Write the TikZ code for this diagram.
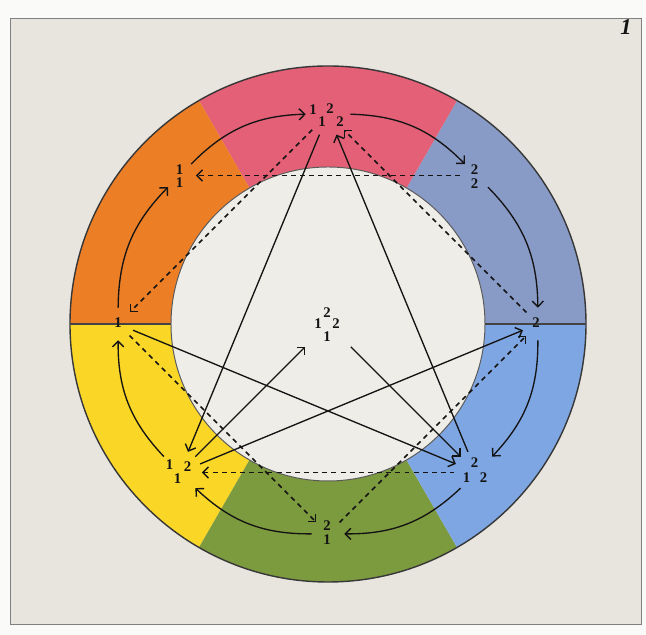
\documentclass[tikz,border=0pt]{standalone}
\usepackage{fontspec}
\setmainfont{Liberation Serif}
\usepackage{tikz}
\usetikzlibrary{
  arrows.meta
}
\definecolor{margin}{RGB}{250,250,248}
\definecolor{paper}{RGB}{231,229,222}
\definecolor{paperlt}{RGB}{239,237,231}
\definecolor{ink}{RGB}{20,20,20}
\definecolor{segred}{RGB}{228,96,118}
\definecolor{segorange}{RGB}{236,126,38}
\definecolor{segyellow}{RGB}{250,214,38}
\definecolor{seggreen}{RGB}{124,154,62}
\definecolor{segblue}{RGB}{126,166,226}
\definecolor{seggrey}{RGB}{136,154,198}
\newcommand{\sector}[3]{%
  \fill[#3] (#1:258) arc[start angle=#1,end angle=#2,radius=258]%
    -- (#2:157) arc[start angle=#2,end angle=#1,radius=157] -- cycle;%
}
\newcommand{\digit}[4]{%
  \node[num] (#1) at ([shift={(#2)}]#3) {#4};%
}
\tikzset{
  num/.style={font=\fontsize{10.5}{10.5}\selectfont\bfseries,text=ink,inner sep=0pt},
  grp/.style={circle,inner sep=0pt,minimum size=0.8cm},
  wide/.style={grp,minimum size=1.1cm},
  tip/.tip={Straight Barb[length=4pt,width=8pt,line width=1pt]},
  arcarrow/.style={ink,line width=0.95pt,-tip,bend left=22},
  ray/.style={ink,line width=0.95pt,-tip},
  dashray/.style={ray,line width=1.05pt,dash pattern=on 3.5pt off 3pt}
}

\begin{document}
\begin{tikzpicture}[x=0.025cm,y=0.025cm]
  \useasboundingbox (-328,324) rectangle (318,-311);
  \fill[margin] (-328,324) rectangle (318,-311);
  \filldraw[fill=paper,draw=black!50,line width=0.6pt] (-318,306) rectangle (313,-300);
  \node[font=\fontsize{16}{16}\selectfont\bfseries\itshape,text=ink] (platenum) at (298,297) {1};

  \sector{0}{60}{seggrey}
  \sector{60}{120}{segred}
  \sector{120}{180}{segorange}
  \sector{180}{240}{segyellow}
  \sector{240}{300}{seggreen}
  \sector{300}{360}{segblue}
  \filldraw[fill=paperlt,draw=ink!70,line width=0.7pt] (0,0) circle[radius=157];
  \draw[ink!85,line width=1pt] (0,0) circle[radius=258];
  \draw[ink!80,line width=1pt] (-258,0) -- (-157,0) (157,0) -- (258,0);

  \node[wide] (top) at (90:210) {};
  \node[grp] (orng) at (135:210) {};
  \node[grp] (lft) at (180:210) {};
  \node[wide] (bl) at (225:210) {};
  \node[grp] (bot) at (270:210) {};
  \node[wide] (br) at (315:210) {};
  \node[grp] (rgt) at (0:210) {};
  \node[grp] (blgy) at (45:210) {};
  \node[grp,minimum size=1.6cm] (mid) at (0,0) {};

  \digit{top-a}{-15,4}{top}{1}
  \digit{top-b}{2,5}{top}{2}
  \digit{top-c}{-6,-8}{top}{1}
  \digit{top-d}{12,-8}{top}{2}
  \digit{orng-a}{0,6}{orng}{1}
  \digit{orng-b}{0,-7}{orng}{1}
  \digit{blgy-a}{-2,6}{blgy}{2}
  \digit{blgy-b}{-2,-8}{blgy}{2}
  \digit{lft-a}{0,1}{lft}{1}
  \digit{rgt-a}{-2,1}{rgt}{2}
  \digit{mid-a}{-1,11}{mid}{2}
  \digit{mid-b}{-10,0}{mid}{1}
  \digit{mid-c}{8,0}{mid}{2}
  \digit{mid-d}{-1,-13}{mid}{1}
  \digit{bl-a}{-10,8}{bl}{1}
  \digit{bl-b}{8,6}{bl}{2}
  \digit{bl-c}{-2,-6}{bl}{1}
  \digit{br-a}{-2,10}{br}{2}
  \digit{br-b}{-10,-5}{br}{1}
  \digit{br-c}{7,-5}{br}{2}
  \digit{bot-a}{-1,8}{bot}{2}
  \digit{bot-b}{-1,-6}{bot}{1}

  \draw[arcarrow] (orng) to (top);
  \draw[arcarrow] (top) to (blgy);
  \draw[arcarrow] (blgy) to (rgt);
  \draw[arcarrow] (rgt) to (br);
  \draw[arcarrow] (br) to (bot);
  \draw[arcarrow] (bot) to (bl);
  \draw[arcarrow] (bl) to (lft);
  \draw[arcarrow] (lft) to (orng);

  \draw[ray] (top) -- (bl);
  \draw[ray] (br) -- (top);
  \draw[ray] (lft) -- (br);
  \draw[ray] (bl) -- (rgt);
  \draw[ray] (bl) -- (mid);
  \draw[ray] (mid) -- (br);

  \draw[dashray] (blgy) -- (orng);
  \draw[dashray] (top) -- (lft);
  \draw[dashray] (rgt) -- (top);
  \draw[dashray] (lft) -- (bot);
  \draw[dashray] (bot) -- (rgt);
  \draw[dashray,tip-] (bl) -- (br);
\end{tikzpicture}
\end{document}
